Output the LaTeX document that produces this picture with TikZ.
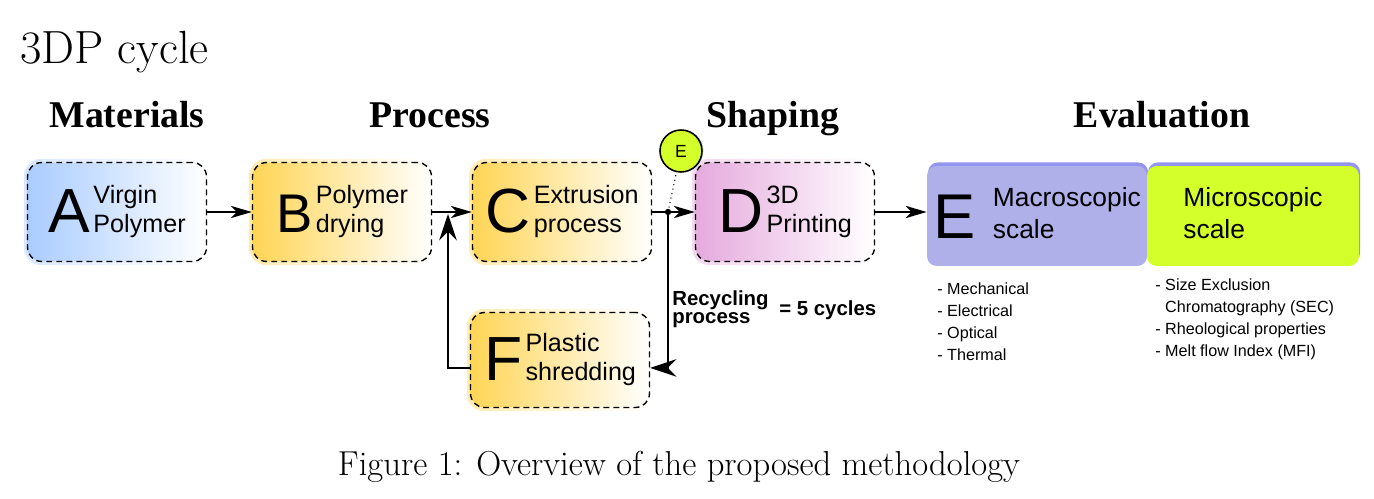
\documentclass[tikz,border=0pt]{standalone}
\usepackage{fontspec}
\setsansfont{Liberation Sans}
\newfontfamily\headfont{Liberation Serif}
\usepackage{tikz}
\usetikzlibrary{arrows.meta, positioning, shadows, backgrounds, calc}
\definecolor{StageBlue}{RGB}{170,204,255}
\definecolor{StageYellow}{RGB}{255,213,85}
\definecolor{StagePink}{RGB}{229,170,221}
\definecolor{EvalLavender}{RGB}{175,175,233}
\definecolor{EvalLime}{RGB}{212,255,42}
\definecolor{ShadowBlue}{RGB}{60,60,230}
\tikzset{
  >={Stealth[length=12pt,width=7pt,inset=3.5pt]},
  % boxes of the cycle
  stagebox/.style={draw,dashed,dash pattern=on 3.4pt off 2.3pt,line width=0.8pt,rounded corners=8pt,
    minimum width=3.58cm,minimum height=1.98cm,inner sep=0pt,right color=white,
    font=\sffamily\fontsize{14.3}{17}\selectfont},
  glow/.style={rounded corners=10pt,right color=white,opacity=0.45},
  evalbox/.style={rounded corners=5.5pt,minimum width=4.4cm,minimum height=2cm,inner sep=0pt,
    font=\sffamily\fontsize{15}{18.7}\selectfont,
    drop shadow={shadow xshift=0.6pt,shadow yshift=2pt,fill=ShadowBlue,opacity=0.55}},
  stage tag/.style={circle,draw,line width=0.9pt,fill=EvalLime,minimum size=0.84cm,inner sep=0pt,
    font=\sffamily\fontsize{10}{10}\selectfont,
    drop shadow={shadow xshift=0.8pt,shadow yshift=0.2pt,opacity=0.4}},
  phase/.style={anchor=base,font=\headfont\bfseries\fontsize{21.5}{24}\selectfont},
  % multi-line texts are placed by the baseline of their last line
  bullets/.style={anchor=base west,align=left,inner sep=0pt,font=\sffamily\fontsize{9.2}{12.7}\selectfont},
  note/.style={anchor=base west,align=left,inner sep=0pt,font=\sffamily\bfseries\fontsize{11.6}{10.4}\selectfont},
  % connections
  connect arrow/.style={->,line width=0.75pt},
  big arrow/.style={-{Stealth[length=15pt,width=10pt,inset=5pt]},line width=0.75pt}
}
\newcommand{\stagetext}[3][2pt]{{\fontsize{35.5}{35.5}\selectfont #2}\hspace{#1}\begin{tabular}[b]{@{}l@{}}#3\end{tabular}}

\begin{document}
\begin{tikzpicture}[x=0.02cm,y=-0.02cm]
  \useasboundingbox (0,0) rectangle (1374,499);
  \node[anchor=base west,inner sep=0pt,font=\fontsize{26.5}{29}\selectfont] (title) at (20,64) {3DP cycle};
  \node[phase] (materials) at (127,128) {Materials};
  \node[phase] (process) at (430,128) {Process};
  \node[phase] (shaping) at (773,128) {Shaping};
  \node[phase] (evaluation) at (1162,128) {Evaluation};

  \node[stagebox,left color=StageBlue] (A) at (117,212) {\stagetext{A}{Virgin\\Polymer}};
  \node[stagebox,left color=StageYellow] (B) at (342,212) {\stagetext{\fontsize{31}{31}\selectfont B}{Polymer\\drying}};
  \node[stagebox,left color=StageYellow] (C) at (562,212) {\stagetext{C}{Extrusion\\process}};
  \node[stagebox,left color=StagePink] (D) at (785,212) {\stagetext{D}{3D\\Printing}};
  \node[stagebox,left color=StageYellow,minimum height=1.9cm] (F) at (560,360) {\stagetext{F}{Plastic\\shredding}};
  \begin{scope}[on background layer]
    \foreach \n/\c in {A/StageBlue,B/StageYellow,C/StageYellow,D/StagePink,F/StageYellow}
      \shade[glow,left color=\c] ([shift={(-3,-3)}]\n.north west) rectangle ([shift={(3,3)}]\n.south east);
  \end{scope}

  \node[evalbox,fill=EvalLavender] (E) at (1037,216) {\stagetext[10pt]{\fontsize{36}{36}\selectfont E}{Macroscopic\\scale}};
  \node[evalbox,fill=EvalLime,minimum width=4.24cm] (micro) at (1253,216) {\begin{tabular}[b]{@{}l@{}}Microscopic\\scale\end{tabular}};

  \node[bullets] (macro list) at (937,361) {- Mechanical\\- Electrical\\- Optical\\- Thermal};
  \node[bullets] (micro list) at (1155,357) {- Size Exclusion\\\phantom{- }Chromatography (SEC)\\- Rheological properties\\- Melt flow Index (MFI)};

  \draw[connect arrow] (A) -- (B);
  \draw[connect arrow] (B) -- (C);
  \draw[connect arrow] (C) -- (D);
  \draw[connect arrow] (D) -- (D -| E.west);

  % recycling loop
  \coordinate (split) at (668,212);
  \coordinate (join) at (448,214);
  \node[stage tag] (tag) at (681,151) {E};
  \draw[dotted,line width=0.6pt] (split) -- (tag);
  \fill (split) circle (1.8pt);
  \draw[big arrow] (split) |- ([yshift=-4.5pt]F.east);
  \draw[big arrow] ([yshift=-4.5pt]F.west) -| (join);
  \node[note] (recycling) at (672,324) {Recycling\\process};
  \node[note] (cycles) at (779,316) {= 5 cycles};

  \node[anchor=base,font=\fontsize{19.7}{22}\selectfont] (caption) at (679,476) {Figure 1: Overview of the proposed methodology};
\end{tikzpicture}
\end{document}
